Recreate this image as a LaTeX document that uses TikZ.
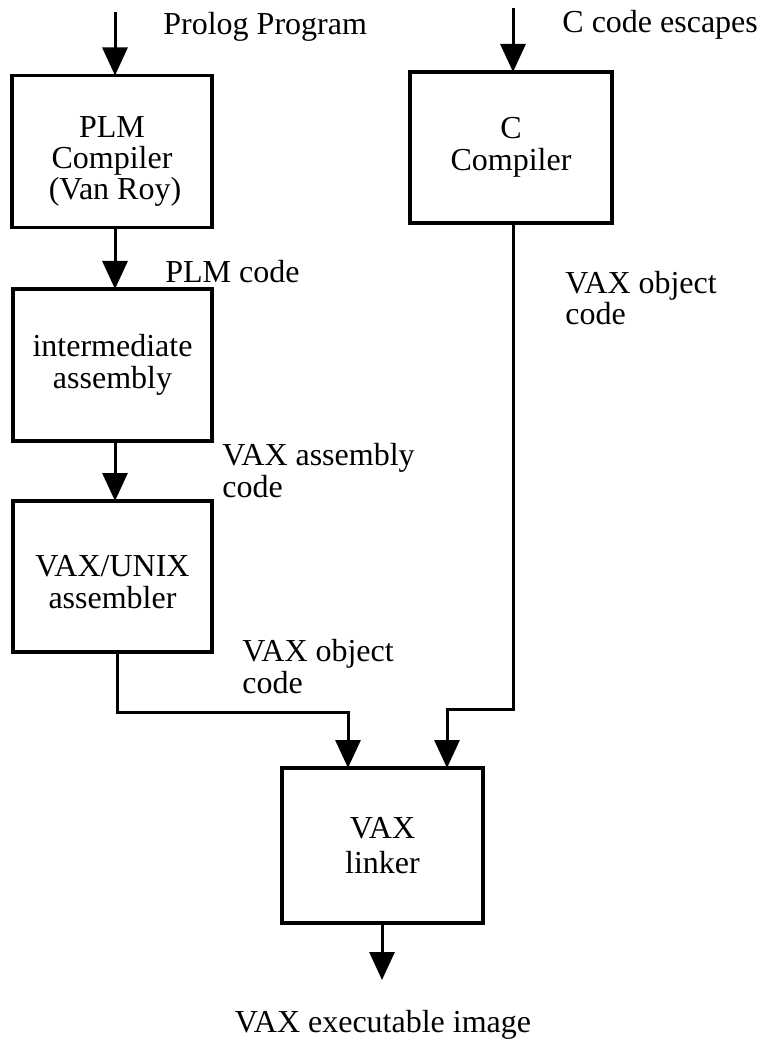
\documentclass[tikz,border=0pt]{standalone}
\usepackage{fontspec}
\setmainfont{Liberation Serif}
\usetikzlibrary{arrows.meta,calc}
\newcommand{\lowered}[2]{\raisebox{-#1}[\height][\depth]{\begin{tabular}{@{}c@{}}#2\end{tabular}}}
\begin{document}
\begin{tikzpicture}[x=0.5pt,y=-0.5pt,
  txt/.style={font=\fontsize{16pt}{15.8pt}\selectfont},
  box/.style={draw,line width=1.7pt,inner sep=0pt,outer sep=0pt,align=center,
    minimum width=100pt,minimum height=76pt,txt},
  lbl/.style={anchor=base west,inner sep=0pt,align=left,txt},
  arr/.style={line width=1.5pt,-{Triangle[length=14pt,width=12.5pt]}}]
\useasboundingbox (0,0) rectangle (764,1042);
% boxes
\node[box] (plm) at (112,151.5) {\renewcommand{\arraystretch}{0.92}\lowered{5.5pt}{PLM\\Compiler\\\hspace{3pt}(Van Roy)}};
\node[box,minimum width=101pt,minimum height=75.5pt] (cc) at (511,147.5) {C\\Compiler};
\node[box,minimum width=99.5pt] (inter) at (112.5,365) {intermediate\\assembly};
\node[box,minimum width=99.5pt,minimum height=75.5pt] (asm) at (112.5,576.5) {\lowered{5pt}{VAX/UNIX\\assembler}};
\node[box,minimum width=100.5pt,minimum height=77.5pt,font=\fontsize{16pt}{17.5pt}\selectfont] (link) at (382.5,845.5) {VAX\\linker};
% labels (anchor = baseline of the last line)
\node[lbl] (lp) at (163,35) {Prolog Program};
\node[lbl] (lc) at (562,33) {C code escapes};
\node[lbl] (lplm) at (165,283) {PLM code};
\node[lbl] (lva) at (222,497) {VAX assembly\\code};
\node[lbl] (lvo1) at (565,325) {VAX object\\code};
\node[lbl] (lvo2) at (242,693) {VAX object\\code};
\node[txt,anchor=base,inner sep=0pt] (lex) at (383,1032) {VAX executable image};
% connectors
\coordinate (s1) at (115,12);
\coordinate (s2) at (513,8);
\coordinate (xa) at (115,0);
\coordinate (j1) at (117,712);
\coordinate (j2) at (348,712);
\coordinate (k1) at (513,709);
\coordinate (k2) at (447,709);
\coordinate (o) at (382,980);
\draw[arr] (s1) -- (s1 |- plm.north);
\draw[arr] (s2) -- (s2 |- cc.north);
\draw[arr] (xa |- plm.south) -- (xa |- inter.north);
\draw[arr] (xa |- inter.south) -- (xa |- asm.north);
\draw[arr] (j1 |- asm.south) -- (j1) -- (j2) -- (j2 |- link.north);
\draw[arr] (k1 |- cc.south) -- (k1) -- (k2) -- (k2 |- link.north);
\draw[arr] (o |- link.south) -- (o);
\end{tikzpicture}
\end{document}
